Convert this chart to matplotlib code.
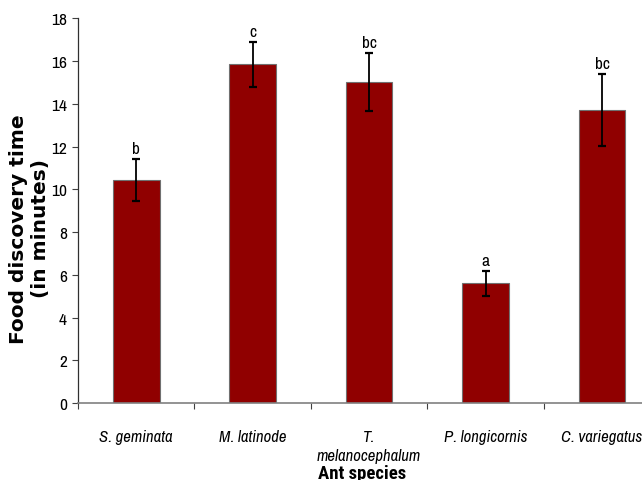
import numpy as np
import matplotlib
matplotlib.use("Agg")
import matplotlib.pyplot as plt
from matplotlib import font_manager

# data
species = ["S. geminata", "M. latinode", "T.\nmelanocephalum", "P. longicornis", "C. variegatus"]
mean_time = [10.45, 15.85, 15.02, 5.61, 13.70]
err_time = [0.97, 1.07, 1.37, 0.58, 1.69]
groups = ["b", "c", "bc", "a", "bc"]

# pick Arial Narrow look-alikes if they are there
have = set(f.name for f in font_manager.fontManager.ttflist)


def first_font(options):
    for name in options:
        if name in have:
            return name
    return "DejaVu Sans"


narrow = first_font(["Liberation Sans Narrow", "Arial Narrow", "Archivo Narrow", "PT Sans Narrow", "Roboto Condensed"])
narrow_bold = first_font(["Liberation Sans Narrow", "Arial Narrow", "Roboto Condensed", "Barlow Condensed", "PT Sans Narrow"])
plt.rcParams['font.family'] = [narrow, "DejaVu Sans"]

fig = plt.figure(figsize=(6.42, 4.81), dpi=100)
ax = fig.add_axes([0.1215, 0.16, 0.907, 0.7995])

x = np.arange(len(species))
ax.bar(x, mean_time, width=0.4, color="#900000", edgecolor="#707070", linewidth=0.8, zorder=2)
ax.errorbar(x, mean_time, yerr=err_time, fmt="none", ecolor="black",
            elinewidth=1.3, capsize=2.6, capthick=1.6, zorder=3)

for xi, m, e, g in zip(x, mean_time, err_time, groups):
    ax.annotate(g, (xi, m + e), xytext=(0, 2), textcoords="offset points",
                ha="center", va="bottom", fontsize=12.5)

ax.set_xlim(-0.5, 4.5)
ax.set_ylim(0, 18)
ax.set_yticks(np.arange(0, 19, 2))
ax.tick_params(axis="y", labelsize=12.5, length=4, width=0.8, color="#404040", pad=4)

# labels at the centres, tick marks at the category borders
ax.set_xticks(x)
ax.set_xticklabels(species, fontstyle="italic", fontsize=12, linespacing=1.3)
ax.tick_params(axis="x", which="major", length=0, pad=19)
ax.set_xticks(np.arange(-0.5, 5, 1), minor=True)
ax.tick_params(axis="x", which="minor", length=4, width=0.8, color="#404040")

for s in ["top", "right"]:
    ax.spines[s].set_visible(False)
ax.spines["left"].set_color("#303030")
ax.spines["left"].set_linewidth(0.9)
ax.spines["bottom"].set_color("#808080")
ax.spines["bottom"].set_linewidth(1.2)

fig.text(0.046, 0.524, "Food discovery time\n(in minutes)", rotation=90, ha="center",
         va="center", multialignment="center", fontsize=14.5, fontweight="bold",
         family="DejaVu Sans", linespacing=1.2)
fig.text(0.564, 0.014, "Ant species", ha="center", va="center", fontsize=13.5,
         fontweight="bold", family=[narrow_bold, "DejaVu Sans"])

fig.savefig("out.png", dpi=100)
